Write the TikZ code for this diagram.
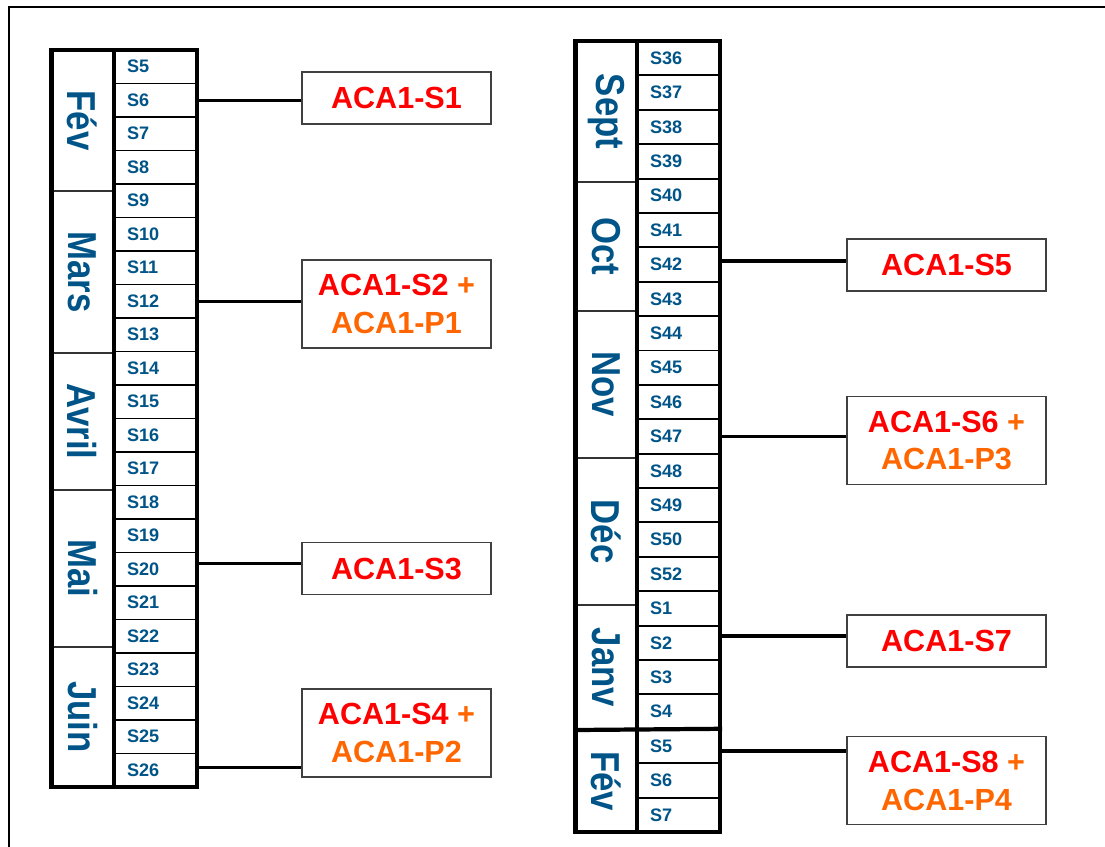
\documentclass[tikz,border=0pt]{standalone}
\usepackage{fontspec}
\setmainfont{Liberation Sans}
\usepackage{graphicx}
\definecolor{weekblue}{RGB}{0,84,135}
\definecolor{acared}{RGB}{255,0,0}
\definecolor{acaorange}{RGB}{255,102,0}
\usetikzlibrary{positioning}
\newcommand{\vmonth}[1]{\rotatebox{-90}{\scalebox{0.86}[1]{#1}}}

\begin{document}
\begin{tikzpicture}[x=0.02cm,y=-0.02cm,
    weekcell/.style={draw,line width=1.1pt,outer sep=0pt,inner xsep=0.26cm,
      text width=1.14cm,align=left,text=weekblue,
      font=\fontsize{10.3}{12}\selectfont\bfseries},
    monthcell/.style={draw=black!80,line width=0.9pt,outer sep=0pt,inner sep=0pt,
      minimum width=1.24cm,text=weekblue,font=\fontsize{23}{26}\selectfont\bfseries},
    rim/.style={line width=2.4pt,line cap=rect},
    acabox/.style={draw=black!75,line width=1pt,fill=white,align=center,
      inner sep=0pt,text=acared,font=\fontsize{17.4}{21.6}\selectfont\bfseries},
    link/.style={line width=1.9pt}]
  \useasboundingbox (0,0) rectangle (1105,847);
  \clip (0,0) rectangle (1105,847);
  \draw[line width=1.6pt] (9,900) |- (1120,7);
  % first table: weeks S5 to S26
  \foreach \w [count=\i from 0] in {5,...,26}
    \node[weekcell,minimum height=0.67cm] (L\w) at (155.5,{66.75+33.5*\i}) {S\w};
  \node[monthcell,minimum height=2.82cm] (FevL)  at (82.5,120.5) {\vmonth{Fév}};
  \node[monthcell,minimum height=3.24cm] (Mars)  at (82.5,272)   {\vmonth{Mars}};
  \node[monthcell,minimum height=2.74cm] (Avril) at (82.5,421.5) {\vmonth{Avril}};
  \node[monthcell,minimum height=3.14cm] (Mai)   at (82.5,568.5) {\vmonth{Mai}};
  \node[monthcell,minimum height=2.80cm] (Juin)  at (82.5,717)   {\vmonth{Juin}};
  \draw[rim] (FevL.north west) rectangle (L26.south east);
  \draw[rim] (L5.north west) -- (L26.south west);
  % second table: weeks S36 to S7
  \foreach \w [count=\i from 0] in {36,...,50,52,1,2,3,4,5,6,7}
    \node[weekcell,minimum height=0.688cm] (R\w) at (678.5,{58.2+34.39*\i}) {S\w};
  \node[monthcell,minimum height=2.82cm] (Sept) at (606.5,111.5) {\vmonth{Sept}};
  \node[monthcell,minimum height=2.58cm] (Oct)  at (606.5,246.5) {\vmonth{Oct}};
  \node[monthcell,minimum height=2.94cm] (Nov)  at (606.5,384.5) {\vmonth{Nov}};
  \node[monthcell,minimum height=2.94cm] (Dec)  at (606.5,531.5) {\vmonth{Déc}};
  \node[monthcell,minimum height=2.50cm] (Janv) at (606.5,667.5) {\vmonth{Janv}};
  \node[monthcell,minimum height=2.04cm] (FevR) at (606.5,781)   {\vmonth{Fév}};
  \draw[rim] (Sept.north west) rectangle (R7.south east);
  \draw[rim] (R36.north west) -- (R7.south west);
  \draw[rim] (FevR.north west) -- (R5.north east);
  % exams
  \node[acabox,minimum width=3.78cm,minimum height=1.04cm] (aca1) at (396.5,98)
    {ACA1-S1};
  \node[acabox,minimum width=3.78cm,minimum height=1.76cm] (aca2) at (396.5,304)
    {ACA1-S2 \textcolor{acaorange}{+}\\\textcolor{acaorange}{ACA1-P1}};
  \node[acabox,minimum width=3.78cm,minimum height=1.04cm] (aca3) at (396.5,568.5)
    {ACA1-S3};
  \node[acabox,minimum width=3.78cm,minimum height=1.76cm] (aca4) at (396.5,733)
    {ACA1-S4 \textcolor{acaorange}{+}\\\textcolor{acaorange}{ACA1-P2}};
  \node[acabox,minimum width=3.98cm,minimum height=1.04cm] (aca5) at (946.5,265)
    {ACA1-S5};
  \node[acabox,minimum width=3.98cm,minimum height=1.76cm] (aca6) at (946.5,440.5)
    {ACA1-S6 \textcolor{acaorange}{+}\\\textcolor{acaorange}{ACA1-P3}};
  \node[acabox,minimum width=3.98cm,minimum height=1.04cm] (aca7) at (946.5,641)
    {ACA1-S7};
  \node[acabox,minimum width=3.98cm,minimum height=1.76cm] (aca8) at (946.5,780.5)
    {ACA1-S8 \textcolor{acaorange}{+}\\\textcolor{acaorange}{ACA1-P4}};
  \draw[link] (L6.east) -- (L6.east -| aca1.west);
  \draw[link] (L12.east) -- (L12.east -| aca2.west);
  \draw[link] ([yshift=0.12cm]L20.east) -- ([yshift=0.12cm]L20.east -| aca3.west);
  \draw[link] ([yshift=0.06cm]L26.east) -- ([yshift=0.06cm]L26.east -| aca4.west);
  \draw[link] ([yshift=0.07cm]R42.east) -- ([yshift=0.07cm]R42.east -| aca5.west);
  \draw[link] (R47.east) -- (R47.east -| aca6.west);
  \draw[link] ([yshift=0.14cm]R2.east) -- ([yshift=0.14cm]R2.east -| aca7.west);
  \draw[link] ([yshift=-0.1cm]R5.east) -- ([yshift=-0.1cm]R5.east -| aca8.west);
\end{tikzpicture}
\end{document}
